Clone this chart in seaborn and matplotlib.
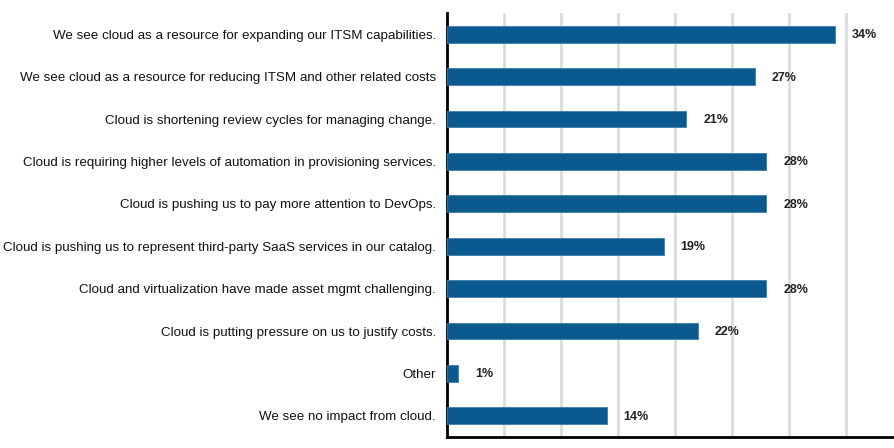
import matplotlib
matplotlib.use("Agg")
import matplotlib.pyplot as plt
import seaborn as sns
import pandas as pd

categories = [
    "We see cloud as a resource for expanding our ITSM capabilities.",
    "We see cloud as a resource for reducing ITSM and other related costs",
    "Cloud is shortening review cycles for managing change.",
    "Cloud is requiring higher levels of automation in provisioning services.",
    "Cloud is pushing us to pay more attention to DevOps.",
    "Cloud is pushing us to represent third-party SaaS services in our catalog.",
    "Cloud and virtualization have made asset mgmt challenging.",
    "Cloud is putting pressure on us to justify costs.",
    "Other",
    "We see no impact from cloud.",
]
values = [34, 27, 21, 28, 28, 19, 28, 22, 1, 14]
value_labels = ["34%", "27%", "21%", "28%", "28%", "19%", "28%", "22%", "1%", "14%"]

sns.set_theme(style="white")
plt.rcParams["font.family"] = ["Liberation Sans", "DejaVu Sans"]

df = pd.DataFrame({"category": categories, "value": values})

fig = plt.figure(figsize=(8.95, 4.48), dpi=100)
ax = fig.add_axes([447 / 895, 1 - 437 / 448, 1 - 447 / 895, (437 - 13) / 448])

sns.barplot(data=df, y="category", x="value", color="#0B5A8F", width=0.4,
            saturation=1, ax=ax, zorder=3, edgecolor="#3C7DAA", linewidth=0.6)

ax.set_xlim(0, 39.3)
ax.set_ylim(9.5, -0.5)
ax.set_xticks([5, 10, 15, 20, 25, 30, 35])
ax.set_xticklabels([])
ax.xaxis.grid(True, color="#DCDCDC", linewidth=2)
ax.set_axisbelow(True)
ax.tick_params(axis="x", length=0)
ax.tick_params(axis="y", length=0, pad=8, labelsize=9.6, labelcolor="#111111")
ax.set_xlabel("")
ax.set_ylabel("")

for s in ["top", "right"]:
    ax.spines[s].set_visible(False)
for s in ["left", "bottom"]:
    ax.spines[s].set_color("black")
    ax.spines[s].set_linewidth(2)

for i, (v, lab) in enumerate(zip(values, value_labels)):
    ax.annotate(lab, xy=(v, i), xytext=(17, -1), textcoords="offset pixels",
                va="center", ha="left", fontsize=9, fontweight="bold", color="#222222")

fig.savefig("out.png", dpi=100)
